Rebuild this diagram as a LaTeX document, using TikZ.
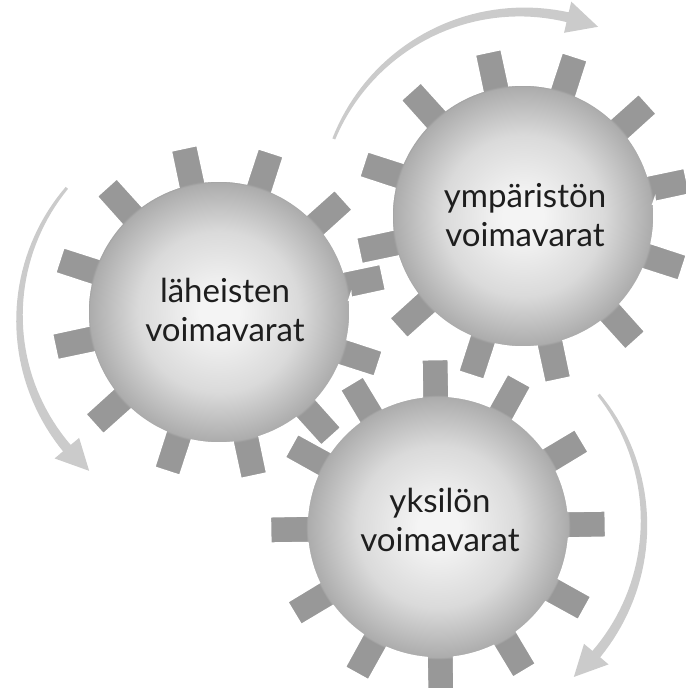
\documentclass[tikz,border=0pt]{standalone}
\usepackage{fontspec}
\setmainfont{Lato}
\usetikzlibrary{positioning,calc}

\definecolor{gearlight}{HTML}{F4F4F4}
\definecolor{gearmid}{HTML}{DADADA}
\definecolor{gearedge}{HTML}{ACACAC}
\definecolor{geartooth}{HTML}{989898}
\definecolor{turngray}{HTML}{CBCBCB}
\definecolor{labelink}{HTML}{1E1E1E}

% the central 50bp of a shading covers the path
\pgfdeclareradialshading{gearshade}{\pgfpoint{0bp}{0bp}}{%
  color(0bp)=(gearlight); color(3bp)=(gearlight); color(12bp)=(gearmid);
  color(19.3bp)=(gearedge); color(19.6bp)=(geartooth); color(50bp)=(geartooth)}

% cog: centre, angle of first tooth
\newcommand{\cogwheel}[2]{%
  \shadedraw[gearbody,shift={(#1)}] ({#2-6.2}:2.64)
    \foreach \k in {0,...,11}{
      -- ({#2+30*\k-4.8}:3.38) -- ({#2+30*\k+4.8}:3.38) -- ({#2+30*\k+6.2}:2.64)
      arc[start angle={#2+30*\k+6.2}, end angle={#2+30*\k+23.8}, radius=2.64]
    } -- cycle;}

% turning arrow: centre, radius, start, head base, tip
\newcommand{\turnarrow}[5]{%
  \fill[turngray,shift={(#1)}]
    plot[domain=0:1,samples=40] ({#3+(#4-#3)*\x}:{#2+0.03+0.07*\x})
    -- ({#4}:{#2+0.32}) -- ({#5}:{#2}) -- ({#4}:{#2-0.32})
    -- plot[domain=1:0,samples=40] ({#3+(#4-#3)*\x}:{#2-0.03-0.07*\x})
    -- cycle;}

\begin{document}
\begin{tikzpicture}[
    gearbody/.style={shading=gearshade,draw=white,line width=2pt},
    cogtext/.style={align=center,inner sep=0pt,text=labelink,font=\fontsize{18.8}{22.4}\selectfont}]

\useasboundingbox (0,0) rectangle (13.72,13.76);

% gears
\cogwheel{4.38,7.52}{12}
\cogwheel{10.46,9.44}{12}
\cogwheel{8.76,3.22}{1}

\node[cogtext] (lahe) at (4.50,7.56) {läheisten\\voimavarat};
\node[cogtext] (ymp) at (10.50,9.46) {ympäristön\\voimavarat};
\node[cogtext] (yks) at (8.80,3.36) {yksilön\\voimavarat};

% rotation
\turnarrow{4.44,7.40}{4.05}{140}{220}{229}
\turnarrow{10.44,9.46}{4.06}{158}{77}{68}
\turnarrow{8.80,3.30}{4.08}{39}{-40}{-49}

\end{tikzpicture}
\end{document}
